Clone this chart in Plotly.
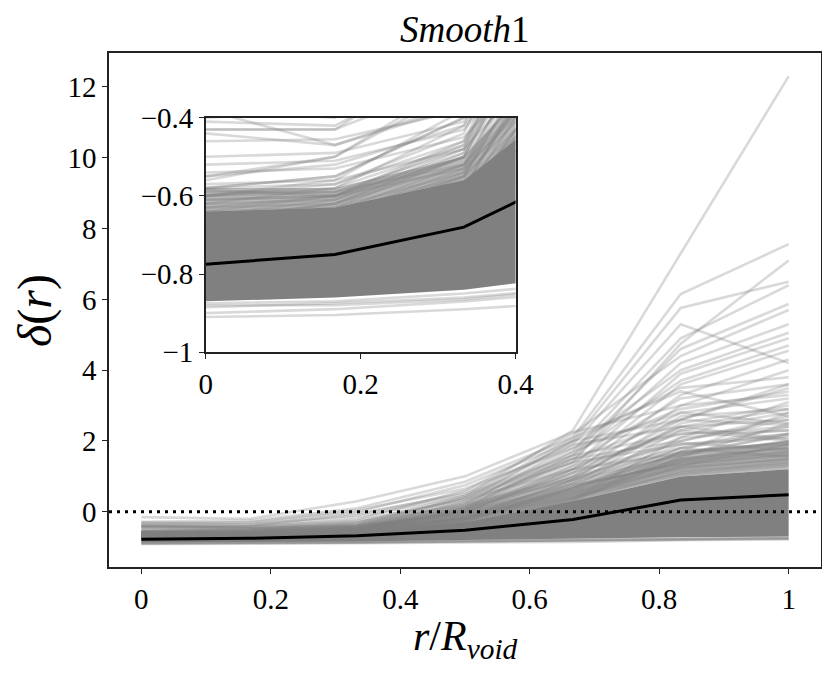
import plotly.graph_objects as go

# radial bins r / R_void
r_bins = [0.0, 0.1667, 0.3333, 0.5, 0.6667, 0.8333, 1.0]
x_ticks = [0, 0.2, 0.4, 0.6, 0.8, 1]
x_tick_text = ["0", "0.2", "0.4", "0.6", "0.8", "1"]
y_ticks = [0, 2, 4, 6, 8, 10, 12]
inset_x_ticks = [0, 0.2, 0.4]
inset_x_text = ["0", "0.2", "0.4"]
inset_y_ticks = [-1, -0.8, -0.6, -0.4]
inset_y_text = ["\u22121", "\u22120.8", "\u22120.6", "\u22120.4"]

# mean profile
mean_profile = [-0.775, -0.75, -0.68, -0.52, -0.22, 0.33, 0.48]

# dense core of the profile bundle (where lines saturate)
core_upper = [-0.64, -0.63, -0.56, -0.30, 0.30, 1.00, 1.20]
core_lower = [-0.87, -0.86, -0.84, -0.80, -0.77, -0.72, -0.70]
# semi-dense halo above the core
halo_upper = [-0.58, -0.58, -0.50, -0.15, 0.70, 1.70, 2.00]

# individual profiles: strong outliers at the edge
outlier_profiles = [
    [-0.56, -0.50, -0.30, 0.45, 2.30, 7.30, 12.30],
    [-0.60, -0.56, -0.38, 0.40, 2.10, 6.15, 7.56],
    [-0.62, -0.58, -0.42, 0.30, 2.00, 5.76, 6.50],
    [-0.63, -0.60, -0.46, 0.20, 1.90, 5.30, 4.20],
    [-0.58, -0.55, -0.40, 0.25, 1.40, 4.75, 7.10],
    [-0.64, -0.60, -0.47, 0.15, 1.70, 4.90, 6.40],
    [-0.66, -0.62, -0.50, 0.10, 1.60, 4.60, 5.87],
    [-0.43, -0.43, -0.22, 0.60, 2.20, 4.40, 5.70],
    [-0.68, -0.64, -0.52, 0.05, 1.50, 4.20, 5.30],
    [-0.65, -0.61, -0.48, 0.22, 1.80, 4.00, 5.06],
    [-0.70, -0.66, -0.55, 0.00, 1.30, 3.90, 4.90],
    [-0.67, -0.63, -0.50, 0.12, 1.60, 3.70, 4.70],
    [-0.72, -0.68, -0.58, -0.05, 1.20, 3.60, 4.55],
    [-0.55, -0.50, -0.32, 0.35, 2.00, 3.50, 3.80],
    [-0.74, -0.70, -0.60, -0.10, 1.10, 3.30, 4.30],
    [-0.69, -0.65, -0.53, 0.08, 1.40, 3.20, 3.60],
    [-0.75, -0.71, -0.62, -0.15, 1.00, 3.00, 4.00],
    [-0.60, -0.57, -0.44, 0.28, 1.70, 2.90, 3.40],
    [-0.73, -0.69, -0.58, -0.02, 1.20, 2.80, 3.20],
    [-0.76, -0.72, -0.63, -0.20, 0.90, 2.70, 2.90],
    [-0.66, -0.62, -0.49, 0.14, 1.50, 2.60, 3.50],
    [-0.77, -0.74, -0.65, -0.25, 0.80, 2.50, 3.00],
    [-0.71, -0.67, -0.55, 0.02, 1.10, 2.40, 2.60],
    [-0.78, -0.75, -0.66, -0.28, 0.70, 2.30, 2.80],
    [-0.70, -0.66, -0.54, 0.05, 1.30, 2.20, 2.40],
    [-0.76, -0.73, -0.63, -0.18, 0.90, 2.10, 3.10],
]

# profiles that are high already in the centre
centre_high_profiles = [
    [-0.15, -0.20, 0.30, 1.00, 2.25, 3.00, 3.30],
    [-0.28, -0.25, 0.10, 0.85, 2.10, 3.40, 2.70],
    [-0.30, -0.32, 0.00, 0.75, 2.00, 2.60, 3.60],
    [-0.35, -0.30, 0.05, 0.65, 1.80, 2.80, 2.50],
    [-0.33, -0.36, -0.10, 0.55, 1.90, 2.40, 2.90],
    [-0.38, -0.40, -0.05, 0.50, 1.60, 2.20, 2.30],
    [-0.40, -0.38, -0.15, 0.45, 1.50, 2.00, 2.70],
    [-0.38, -0.47, -0.37, 0.40, 1.40, 1.90, 2.20],
    [-0.41, -0.42, -0.25, 0.35, 1.20, 2.30, 2.00],
]

# profiles visible in the zoomed inset above the core
inset_profiles = [
    [-0.43, -0.43, -0.30, 0.20, 1.00, 1.80, 2.20],
    [-0.44, -0.47, -0.36, 0.15, 0.95, 1.70, 1.95],
    [-0.46, -0.455, -0.38, 0.10, 0.90, 1.60, 2.00],
    [-0.50, -0.49, -0.41, 0.00, 0.80, 1.50, 1.80],
    [-0.52, -0.51, -0.43, -0.05, 0.70, 1.40, 1.90],
    [-0.54, -0.53, -0.45, -0.10, 0.60, 1.30, 1.60],
    [-0.55, -0.52, -0.42, -0.08, 0.65, 1.45, 1.70],
    [-0.57, -0.56, -0.48, -0.12, 0.55, 1.25, 1.50],
    [-0.585, -0.60, -0.50, -0.15, 0.50, 1.20, 1.45],
    [-0.60, -0.59, -0.52, -0.18, 0.45, 1.10, 1.40],
    [-0.61, -0.60, -0.53, -0.20, 0.40, 1.05, 1.30],
    [-0.58, -0.55, -0.40, -0.02, 0.75, 1.35, 1.65],
]

# profiles in the semi-dense zone at large radius
mid_profiles = [
    [-0.62, -0.61, -0.50, -0.05, 0.90, 2.00, 2.60],
    [-0.63, -0.62, -0.52, -0.10, 0.80, 1.90, 2.10],
    [-0.64, -0.63, -0.54, -0.15, 0.70, 1.80, 2.40],
    [-0.65, -0.64, -0.55, -0.20, 0.60, 1.70, 1.90],
    [-0.66, -0.65, -0.56, -0.12, 0.85, 1.60, 2.20],
    [-0.67, -0.66, -0.57, -0.22, 0.55, 1.50, 1.80],
    [-0.68, -0.67, -0.58, -0.25, 0.50, 1.45, 2.00],
    [-0.69, -0.68, -0.59, -0.28, 0.45, 1.40, 1.70],
    [-0.70, -0.69, -0.60, -0.18, 0.75, 1.35, 1.60],
    [-0.71, -0.70, -0.61, -0.30, 0.40, 1.30, 1.90],
    [-0.72, -0.71, -0.62, -0.32, 0.38, 1.25, 1.50],
    [-0.73, -0.72, -0.63, -0.26, 0.65, 1.80, 1.55],
    [-0.74, -0.73, -0.64, -0.34, 0.35, 2.10, 2.30],
    [-0.60, -0.58, -0.47, 0.05, 1.10, 1.95, 1.75],
    [-0.61, -0.60, -0.49, 0.00, 1.00, 2.40, 2.05],
    [-0.75, -0.74, -0.65, -0.36, 0.30, 1.55, 2.50],
    [-0.58, -0.57, -0.46, 0.08, 1.20, 1.65, 2.15],
    [-0.76, -0.75, -0.66, -0.38, 0.28, 1.15, 1.35],
    [-0.59, -0.59, -0.48, 0.02, 0.95, 2.60, 2.45],
    [-0.77, -0.76, -0.67, -0.40, 0.32, 1.70, 2.80],
]

# profiles below the core
lower_profiles = [
    [-0.91, -0.905, -0.89, -0.87, -0.85, -0.80, -0.78],
    [-0.90, -0.89, -0.87, -0.84, -0.82, -0.78, -0.76],
    [-0.885, -0.875, -0.86, -0.83, -0.80, -0.76, -0.75],
    [-0.88, -0.88, -0.865, -0.835, -0.81, -0.77, -0.74],
    [-0.875, -0.87, -0.85, -0.82, -0.79, -0.75, -0.73],
]

all_profiles = outlier_profiles + centre_high_profiles + inset_profiles + mid_profiles + lower_profiles

SERIF = "Liberation Serif, DejaVu Serif, serif"
LINE_GREY = "rgba(128,128,128,0.3)"

fig = go.Figure()

for xa, ya in (("x", "y"), ("x2", "y2")):
    fig.add_trace(go.Scatter(
        x=r_bins + r_bins[::-1], y=halo_upper + core_upper[::-1],
        fill="toself", fillcolor="rgba(128,128,128,0.55)", mode="lines",
        line=dict(width=0, color="rgba(0,0,0,0)"),
        xaxis=xa, yaxis=ya, hoverinfo="skip", showlegend=False))
    fig.add_trace(go.Scatter(
        x=r_bins + r_bins[::-1], y=core_upper + core_lower[::-1],
        fill="toself", fillcolor="#808080", mode="lines",
        line=dict(width=0, color="#808080"),
        xaxis=xa, yaxis=ya, hoverinfo="skip", showlegend=False))
    for prof in all_profiles:
        fig.add_trace(go.Scatter(
            x=r_bins, y=prof, mode="lines",
            line=dict(color=LINE_GREY, width=2.6),
            xaxis=xa, yaxis=ya, hoverinfo="skip", showlegend=False))
    fig.add_trace(go.Scatter(
        x=r_bins, y=mean_profile, mode="lines",
        line=dict(color="black", width=3),
        xaxis=xa, yaxis=ya, hoverinfo="skip", showlegend=False))

axis_common = dict(
    showline=True, mirror=True, linecolor="#222", linewidth=1.5,
    ticks="outside", ticklen=5, tickwidth=1.2, tickcolor="#222",
    showgrid=False, zeroline=False, automargin=False,
    tickfont=dict(family=SERIF, size=29, color="black"),
)

fig.update_layout(
    width=814, height=661,
    margin=dict(l=101, r=1, t=45, b=102, autoexpand=False),
    paper_bgcolor="white", plot_bgcolor="white",
    showlegend=False,
    xaxis=dict(domain=[0, 1], range=[-0.05, 1.05], tickvals=x_ticks,
               ticktext=x_tick_text, anchor="y", **axis_common),
    yaxis=dict(domain=[0, 1], range=[-1.56, 12.96], tickvals=y_ticks,
               anchor="x", **axis_common),
    xaxis2=dict(domain=[0.136, 0.571], range=[0, 0.4], tickvals=inset_x_ticks,
                ticktext=inset_x_text, anchor="y2", **axis_common),
    yaxis2=dict(domain=[0.418, 0.874], range=[-1, -0.4], tickvals=inset_y_ticks,
                ticktext=inset_y_text, anchor="x2", **axis_common),
    shapes=[dict(type="line", xref="x domain", yref="y", x0=0, x1=1, y0=0, y1=0,
                 line=dict(color="black", width=3, dash="3px,5px"), layer="above")],
    annotations=[
        dict(text="<i>Smooth</i>1", xref="paper", yref="paper", x=0.5, y=1.045,
             showarrow=False, font=dict(family=SERIF, size=37, color="black"),
             xanchor="center", yanchor="middle"),
        dict(text="<i>δ</i>(<i>r</i>)", xref="paper", yref="paper", x=-0.104, y=0.5,
             showarrow=False, textangle=-90,
             font=dict(family=SERIF, size=48, color="black"),
             xanchor="center", yanchor="middle"),
        dict(text="<i>r</i>/<i>R</i><sub><i>void</i></sub>", xref="paper", yref="paper",
             x=0.5, y=-0.141, showarrow=False,
             font=dict(family=SERIF, size=42, color="black"),
             xanchor="center", yanchor="middle"),
    ],
)

fig.write_html("out.html")
